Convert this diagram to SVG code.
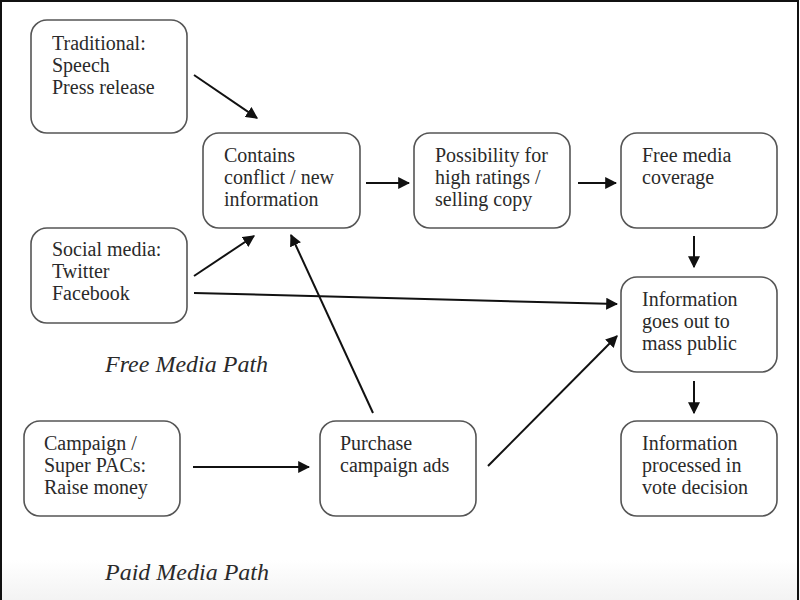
<svg xmlns="http://www.w3.org/2000/svg" width="800" height="600" viewBox="0 0 800 600">
<defs>
<style>
.box{fill:#fff;stroke:#555;stroke-width:1.6}
.t{font-family:"Liberation Serif","Times New Roman",serif;font-size:20px;fill:#2a2a2a}
.lbl{font-family:"Liberation Serif","Times New Roman",serif;font-size:24px;font-style:italic;fill:#2a2a2a}
.c{stroke:#111;stroke-width:2;fill:none;marker-end:url(#ah)}
</style>
<marker id="ah" viewBox="0 0 10 10" refX="9" refY="5" markerWidth="6" markerHeight="6" markerUnits="strokeWidth" orient="auto">
<path d="M0,0 L10,5 L0,10 z" fill="#111"/>
</marker>
<linearGradient id="bg" x1="0" y1="0" x2="0" y2="1">
<stop offset="0" stop-color="#fff"/>
<stop offset="1" stop-color="#f3f3f3"/>
</linearGradient>
</defs>
<rect x="0" y="0" width="800" height="600" fill="#fff"/>
<rect x="0" y="560" width="800" height="40" fill="url(#bg)"/>
<path d="M1,600 V1 H798 V600" fill="none" stroke="#111" stroke-width="2"/>

<g id="traditional">
<rect class="box" x="31" y="20" width="156" height="113" rx="16"/>
<text class="t" x="52" y="50">Traditional:</text>
<text class="t" x="52" y="72">Speech</text>
<text class="t" x="52" y="94">Press release</text>
</g>
<g id="contains">
<rect class="box" x="203" y="133" width="157" height="95" rx="16"/>
<text class="t" x="224" y="162">Contains</text>
<text class="t" x="224" y="184">conflict / new</text>
<text class="t" x="224" y="206">information</text>
</g>
<g id="possibility">
<rect class="box" x="414" y="133" width="156" height="95" rx="16"/>
<text class="t" x="435" y="162">Possibility for</text>
<text class="t" x="435" y="184">high ratings /</text>
<text class="t" x="435" y="206">selling copy</text>
</g>
<g id="freecoverage">
<rect class="box" x="621" y="133" width="156" height="95" rx="16"/>
<text class="t" x="642" y="162">Free media</text>
<text class="t" x="642" y="184">coverage</text>
</g>
<g id="social">
<rect class="box" x="31" y="228" width="156" height="95" rx="16"/>
<text class="t" x="52" y="256">Social media:</text>
<text class="t" x="52" y="278">Twitter</text>
<text class="t" x="52" y="300">Facebook</text>
</g>
<g id="massout">
<rect class="box" x="621" y="277" width="156" height="95" rx="16"/>
<text class="t" x="642" y="306">Information</text>
<text class="t" x="642" y="328">goes out to</text>
<text class="t" x="642" y="350">mass public</text>
</g>
<g id="campaign">
<rect class="box" x="24" y="421" width="156" height="95" rx="16"/>
<text class="t" x="44" y="450">Campaign /</text>
<text class="t" x="44" y="472">Super PACs:</text>
<text class="t" x="44" y="494">Raise money</text>
</g>
<g id="purchase">
<rect class="box" x="320" y="421" width="156" height="95" rx="16"/>
<text class="t" x="340" y="450">Purchase</text>
<text class="t" x="340" y="472">campaign ads</text>
</g>
<g id="processed">
<rect class="box" x="621" y="421" width="156" height="95" rx="16"/>
<text class="t" x="642" y="450">Information</text>
<text class="t" x="642" y="472">processed in</text>
<text class="t" x="642" y="494">vote decision</text>
</g>

<g id="labels">
<text class="lbl" x="105" y="372">Free Media Path</text>
<text class="lbl" x="105" y="580">Paid Media Path</text>
</g>

<g id="connectors">
<line class="c" x1="194" y1="75" x2="257" y2="118"/>
<line class="c" x1="194" y1="276" x2="254" y2="236"/>
<line class="c" x1="194" y1="293" x2="617" y2="304"/>
<line class="c" x1="373" y1="413" x2="291" y2="235"/>
<line class="c" x1="488" y1="466" x2="617" y2="336"/>
<line class="c" x1="193" y1="467" x2="309" y2="467"/>
<line class="c" x1="366" y1="183" x2="409" y2="183"/>
<line class="c" x1="578" y1="183" x2="616" y2="183"/>
<line class="c" x1="694" y1="236" x2="694" y2="267"/>
<line class="c" x1="694" y1="381" x2="694" y2="413"/>
</g>
</svg>
